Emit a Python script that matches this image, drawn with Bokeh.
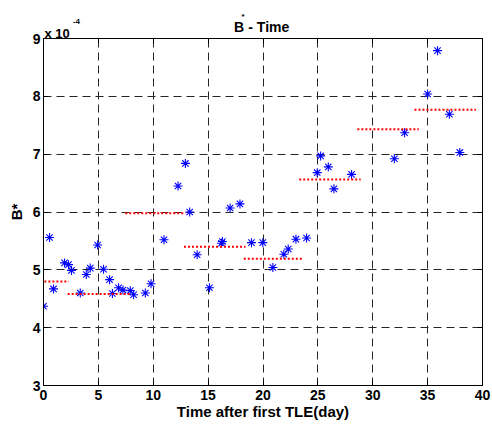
from bokeh.plotting import figure
from bokeh.layouts import column
from bokeh.models import LinearAxis, FixedTicker, Range1d, Label, ColumnDataSource
from bokeh.core.properties import value
from bokeh.embed import file_html
from bokeh.resources import INLINE

# ---- data (B* in units of 1e-4) ----
t_days = [0.0, 0.55, 0.91, 1.92, 2.28, 2.55, 3.35, 3.9, 4.26, 4.93, 5.47, 6.02, 6.28,
          6.84, 7.24, 7.91, 8.21, 9.28, 9.80, 10.98, 12.26, 12.93, 13.32, 14.0, 15.12,
          16.22, 16.3, 17.0, 17.9, 18.95, 19.98, 20.9, 21.9, 22.3, 23.0, 23.97, 24.94,
          25.25, 25.95, 26.46, 28.07, 31.97, 32.9, 35.0, 35.9, 36.98, 37.93]
bstar_e4 = [4.37, 5.56, 4.67, 5.12, 5.09, 4.99, 4.60, 4.92, 5.03, 5.43, 5.01, 4.83, 4.59,
            4.69, 4.65, 4.64, 4.57, 4.60, 4.76, 5.52, 6.45, 6.84, 6.00, 5.26, 4.69,
            5.46, 5.49, 6.07, 6.14, 5.47, 5.47, 5.04, 5.27, 5.36, 5.53, 5.55, 6.68,
            6.97, 6.78, 6.40, 6.65, 6.92, 7.37, 8.04, 8.79, 7.69, 7.03]

seg_start = [-3.2, 2.2, 7.45, 12.8, 18.25, 23.3, 28.6, 33.8]
seg_end = [2.3, 8.0, 12.95, 18.4, 23.7, 28.9, 34.2, 39.4]
seg_level = [4.80, 4.58, 5.98, 5.40, 5.19, 6.56, 7.43, 7.77]

x_ticks = [0, 5, 10, 15, 20, 25, 30, 35, 40]
y_ticks = [3, 4, 5, 6, 7, 8, 9]

FONT = "Liberation Sans"
DOTS = "2 1.5"
W = 492
LEFT = 43        # left border of the plotting box
HEAD_H = 38      # strip holding the title and the exponent
OVERLAP = 12     # main plot slides up under the strip by this much

x_range = Range1d(0, 40)

# ---------------- main plot ----------------
p = figure(width=W, height=424 - HEAD_H + OVERLAP, output_backend="svg", toolbar_location=None,
           x_range=x_range, y_range=Range1d(3, 9), title_location=None,
           min_border_left=LEFT, min_border_right=10, min_border_top=OVERLAP, min_border_bottom=39,
           background_fill_color="white", border_fill_color=None,
           styles={"margin-top": f"-{OVERLAP}px"})
p.outline_line_color = "black"
p.outline_line_width = 1

for g, tk in ((p.xgrid, x_ticks), (p.ygrid, y_ticks)):
    g.ticker = FixedTicker(ticks=tk)
    g.grid_line_color = "#262626"
    g.grid_line_dash = "8 5"
    g.grid_line_width = 1

def style_axis(ax, ticks, labels=True):
    ax.ticker = FixedTicker(ticks=ticks)
    ax.axis_line_color = "black"
    ax.axis_line_width = 1
    ax.major_tick_in = 5
    ax.major_tick_out = 0
    ax.minor_tick_line_color = None
    ax.major_tick_line_color = "black"
    ax.major_label_text_font = FONT
    ax.major_label_text_font_style = "bold"
    ax.major_label_text_font_size = "14px"
    ax.major_label_text_color = "black"
    if not labels:
        ax.major_label_text_color = None
        ax.major_label_standoff = 0

style_axis(p.xaxis[0], x_ticks)
style_axis(p.yaxis[0], y_ticks)
p.xaxis[0].major_label_standoff = 4
p.yaxis[0].major_label_standoff = 3
p.xaxis[0].axis_label = "Time after first TLE(day)"
p.yaxis[0].axis_label = "B*"
for ax in (p.xaxis[0], p.yaxis[0]):
    ax.axis_label_text_font = FONT
    ax.axis_label_text_font_style = "bold"
    ax.axis_label_text_font_size = "15px"
    ax.axis_label_text_color = "black"
p.xaxis[0].axis_label_standoff = 0
p.yaxis[0].axis_label_standoff = 5

right_ax = LinearAxis()
style_axis(right_ax, y_ticks, labels=False)
p.add_layout(right_ax, "right")
top_ax = LinearAxis()
style_axis(top_ax, x_ticks, labels=False)
p.add_layout(top_ax, "above")

src = ColumnDataSource(dict(t=t_days, b=bstar_e4))
p.scatter("t", "b", source=src, marker="asterisk", size=9, line_color="blue", line_width=1.1)

p.segment(x0=seg_start, y0=seg_level, x1=seg_end, y1=seg_level,
          line_color="red", line_width=2, line_dash=value(DOTS))

# ---------------- heading strip (title + exponent) ----------------
h = figure(width=W, height=HEAD_H, output_backend="svg", toolbar_location=None,
           x_range=x_range, y_range=Range1d(0, HEAD_H), title_location=None,
           x_axis_location=None, y_axis_location=None,
           min_border_left=LEFT, min_border_right=10, min_border_top=0, min_border_bottom=0,
           background_fill_color=None, border_fill_color=None)
h.outline_line_color = None
h.xgrid.visible = False
h.ygrid.visible = False

def lab(x, y, text, size):
    h.add_layout(Label(x=x, y=y, text=text, text_font=FONT, text_font_style="bold",
                       text_font_size=size, text_color="black", text_align="left",
                       text_baseline="alphabetic"))

lab(17.35, 12, "B", "14px")
lab(18.04, 22.5, "*", "8px")
lab(18.66, 12, "- Time", "14px")
lab(0.08, 4.7, "x 10", "13px")
lab(2.68, 17, "-4", "8px")

layout = column(h, p, spacing=0)
open("out.html", "w").write(file_html(layout, INLINE))
